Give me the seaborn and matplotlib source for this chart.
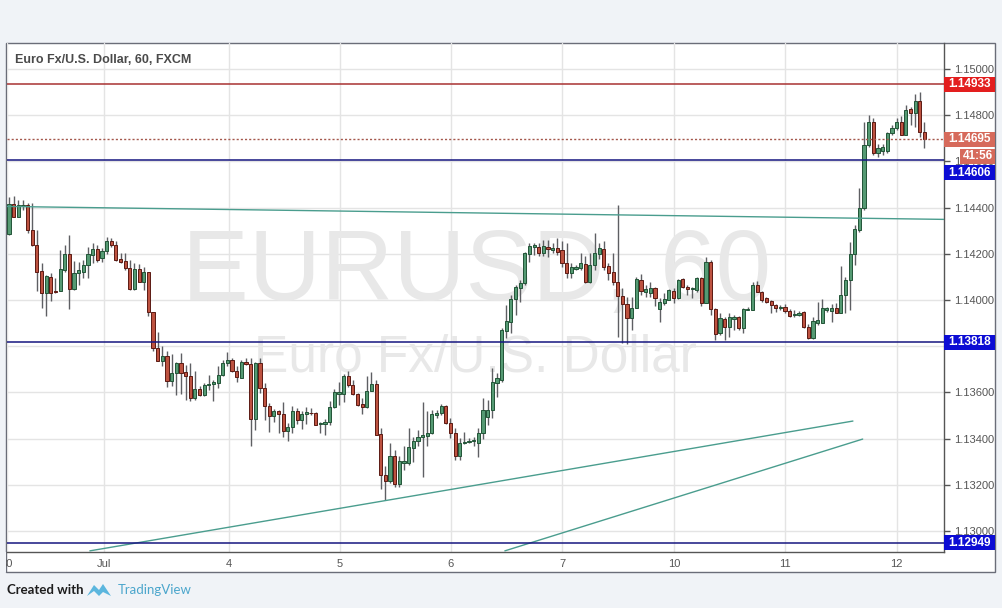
import numpy as np
import pandas as pd
import matplotlib
matplotlib.use("Agg")
import matplotlib.pyplot as plt
import seaborn as sns
from matplotlib.patches import Rectangle, Polygon

# ---------------- data (EUR/USD, 60 min candles) ----------------
opens = [1.14284, 1.14416, 1.14361, 1.14408, 1.14411, 1.14303, 1.14238, 1.14126, 1.14032, 1.14099,
         1.14041, 1.14041, 1.14130, 1.14200, 1.14047, 1.14116, 1.14123, 1.14152, 1.14195, 1.14220,
         1.14181, 1.14210, 1.14257, 1.14238, 1.14176, 1.14169, 1.14140, 1.14047, 1.14133, 1.14080,
         1.14123, 1.13950, 1.13792, 1.13734, 1.13756, 1.13648, 1.13684, 1.13727, 1.13687, 1.13672,
         1.13576, 1.13615, 1.13590, 1.13634, 1.13637, 1.13641, 1.13677, 1.13727, 1.13742, 1.13691,
         1.13664, 1.13731, 1.13723, 1.13484, 1.13726, 1.13618, 1.13542, 1.13500, 1.13520, 1.13506,
         1.13431, 1.13450, 1.13520, 1.13479, 1.13506, 1.13513, 1.13510, 1.13465, 1.13464, 1.13470,
         1.13536, 1.13595, 1.13592, 1.13671, 1.13630, 1.13592, 1.13550, 1.13535, 1.13607, 1.13637,
         1.13419, 1.13244, 1.13215, 1.13326, 1.13205, 1.13294, 1.13294, 1.13359, 1.13388, 1.13409,
         1.13413, 1.13423, 1.13503, 1.13510, 1.13539, 1.13467, 1.13424, 1.13323, 1.13382, 1.13386,
         1.13389, 1.13382, 1.13424, 1.13492, 1.13523, 1.13639, 1.13653, 1.13867, 1.13906, 1.14003,
         1.14050, 1.14072, 1.14198, 1.14231, 1.14231, 1.14202, 1.14231, 1.14216, 1.14224, 1.14216,
         1.14161, 1.14118, 1.14135, 1.14137, 1.14156, 1.14079, 1.14151, 1.14199, 1.14221, 1.14147,
         1.14122, 1.14079, 1.14018, 1.13981, 1.13921, 1.13966, 1.14086, 1.14036, 1.14029, 1.14050,
         1.13960, 1.13988, 1.14000, 1.14040, 1.14007, 1.14089, 1.14055, 1.14046, 1.14043, 1.14096,
         1.13988, 1.14166, 1.13960, 1.13856, 1.13916, 1.13884, 1.13919, 1.13925, 1.13877, 1.13956,
         1.13956, 1.14065, 1.14036, 1.14007, 1.13997, 1.13978, 1.13966, 1.13971, 1.13952, 1.13934,
         1.13935, 1.13949, 1.13884, 1.13834, 1.13901, 1.13901, 1.13956, 1.13953, 1.13964, 1.13945,
         1.14021, 1.14086, 1.14199, 1.14303, 1.14397, 1.14671, 1.14772, 1.14635, 1.14645, 1.14645,
         1.14722, 1.14743, 1.14772, 1.14714, 1.14825, 1.14808, 1.14861, 1.14726]
highs = [1.14447, 1.14450, 1.14433, 1.14433, 1.14418, 1.14418, 1.14303, 1.14159, 1.14109, 1.14119,
         1.14094, 1.14217, 1.14238, 1.14282, 1.14171, 1.14166, 1.14174, 1.14231, 1.14246, 1.14238,
         1.14224, 1.14272, 1.14267, 1.14257, 1.14205, 1.14202, 1.14174, 1.14159, 1.14156, 1.14145,
         1.14123, 1.13950, 1.13860, 1.13799, 1.13778, 1.13768, 1.13730, 1.13770, 1.13720, 1.13727,
         1.13691, 1.13626, 1.13641, 1.13677, 1.13655, 1.13713, 1.13742, 1.13775, 1.13749, 1.13713,
         1.13741, 1.13748, 1.13748, 1.13731, 1.13748, 1.13640, 1.13553, 1.13529, 1.13524, 1.13558,
         1.13467, 1.13543, 1.13532, 1.13520, 1.13535, 1.13532, 1.13514, 1.13474, 1.13484, 1.13561,
         1.13615, 1.13647, 1.13680, 1.13693, 1.13654, 1.13597, 1.13575, 1.13669, 1.13687, 1.13654,
         1.13445, 1.13280, 1.13380, 1.13352, 1.13323, 1.13366, 1.13445, 1.13409, 1.13438, 1.13560,
         1.13520, 1.13524, 1.13524, 1.13549, 1.13546, 1.13489, 1.13445, 1.13402, 1.13428, 1.13402,
         1.13405, 1.13446, 1.13575, 1.13567, 1.13704, 1.13682, 1.13877, 1.13978, 1.14021, 1.14065,
         1.14086, 1.14209, 1.14248, 1.14248, 1.14245, 1.14260, 1.14260, 1.14247, 1.14267, 1.14257,
         1.14248, 1.14159, 1.14151, 1.14202, 1.14190, 1.14205, 1.14289, 1.14248, 1.14257, 1.14159,
         1.14202, 1.14411, 1.14050, 1.14014, 1.14014, 1.14101, 1.14112, 1.14065, 1.14079, 1.14055,
         1.14007, 1.14029, 1.14046, 1.14050, 1.14089, 1.14094, 1.14065, 1.14057, 1.14101, 1.14101,
         1.14185, 1.14173, 1.13964, 1.13942, 1.13925, 1.13942, 1.13935, 1.13930, 1.13964, 1.13968,
         1.14079, 1.14083, 1.14040, 1.14014, 1.14000, 1.13982, 1.13978, 1.13982, 1.13960, 1.13956,
         1.13953, 1.13953, 1.13896, 1.13925, 1.13992, 1.14003, 1.13971, 1.13982, 1.13988, 1.14147,
         1.14101, 1.14252, 1.14325, 1.14483, 1.14772, 1.14801, 1.14788, 1.14674, 1.14674, 1.14729,
         1.14758, 1.14789, 1.14798, 1.14844, 1.14837, 1.14890, 1.14902, 1.14772]
lows = [1.14281, 1.14361, 1.14358, 1.14390, 1.14289, 1.14234, 1.14037, 1.13965, 1.13929, 1.13994,
        1.14030, 1.14041, 1.14123, 1.13961, 1.14044, 1.14066, 1.14094, 1.14094, 1.14159, 1.14166,
        1.14166, 1.14200, 1.14231, 1.14169, 1.14159, 1.14130, 1.14044, 1.14044, 1.14076, 1.14044,
        1.13929, 1.13778, 1.13734, 1.13713, 1.13624, 1.13626, 1.13590, 1.13595, 1.13569, 1.13562,
        1.13569, 1.13586, 1.13583, 1.13612, 1.13562, 1.13619, 1.13670, 1.13713, 1.13687, 1.13644,
        1.13661, 1.13719, 1.13370, 1.13438, 1.13597, 1.13481, 1.13428, 1.13474, 1.13424, 1.13405,
        1.13388, 1.13424, 1.13464, 1.13441, 1.13464, 1.13503, 1.13457, 1.13424, 1.13417, 1.13460,
        1.13532, 1.13546, 1.13560, 1.13625, 1.13587, 1.13542, 1.13506, 1.13532, 1.13604, 1.13417,
        1.13182, 1.13133, 1.13208, 1.13191, 1.13191, 1.13262, 1.13287, 1.13298, 1.13366, 1.13232,
        1.13366, 1.13419, 1.13489, 1.13503, 1.13464, 1.13402, 1.13306, 1.13309, 1.13376, 1.13379,
        1.13370, 1.13320, 1.13400, 1.13459, 1.13488, 1.13581, 1.13645, 1.13835, 1.13856, 1.13935,
        1.13992, 1.14065, 1.14166, 1.14195, 1.14190, 1.14190, 1.14187, 1.14203, 1.14195, 1.14144,
        1.14094, 1.14094, 1.14130, 1.14130, 1.14075, 1.14075, 1.14130, 1.14176, 1.14130, 1.14086,
        1.14065, 1.13841, 1.13812, 1.13809, 1.13870, 1.13964, 1.14021, 1.14014, 1.14014, 1.13974,
        1.13906, 1.13978, 1.13998, 1.13985, 1.14003, 1.14050, 1.14021, 1.14007, 1.14036, 1.13974,
        1.13985, 1.13935, 1.13827, 1.13848, 1.13827, 1.13841, 1.13870, 1.13870, 1.13856, 1.13956,
        1.13956, 1.14036, 1.13992, 1.13985, 1.13942, 1.13949, 1.13956, 1.13942, 1.13927, 1.13927,
        1.13930, 1.13880, 1.13830, 1.13830, 1.13892, 1.13899, 1.13949, 1.13906, 1.13942, 1.13942,
        1.13942, 1.13956, 1.14151, 1.14295, 1.14389, 1.14664, 1.14628, 1.14620, 1.14628, 1.14635,
        1.14714, 1.14736, 1.14714, 1.14714, 1.14758, 1.14750, 1.14707, 1.14657]
closes = [1.14416, 1.14361, 1.14411, 1.14410, 1.14303, 1.14238, 1.14123, 1.14032, 1.14102, 1.14032,
          1.14035, 1.14133, 1.14200, 1.14047, 1.14116, 1.14130, 1.14152, 1.14200, 1.14220, 1.14174,
          1.14210, 1.14257, 1.14238, 1.14174, 1.14166, 1.14140, 1.14047, 1.14133, 1.14080, 1.14123,
          1.13950, 1.13792, 1.13734, 1.13756, 1.13648, 1.13684, 1.13727, 1.13684, 1.13672, 1.13576,
          1.13615, 1.13590, 1.13634, 1.13637, 1.13644, 1.13677, 1.13727, 1.13742, 1.13691, 1.13667,
          1.13731, 1.13722, 1.13484, 1.13726, 1.13618, 1.13539, 1.13500, 1.13520, 1.13506, 1.13431,
          1.13450, 1.13520, 1.13479, 1.13507, 1.13514, 1.13510, 1.13460, 1.13467, 1.13474, 1.13536,
          1.13601, 1.13600, 1.13671, 1.13630, 1.13592, 1.13546, 1.13535, 1.13607, 1.13637, 1.13417,
          1.13241, 1.13215, 1.13326, 1.13205, 1.13304, 1.13304, 1.13362, 1.13391, 1.13409, 1.13415,
          1.13426, 1.13507, 1.13513, 1.13539, 1.13467, 1.13424, 1.13323, 1.13380, 1.13386, 1.13391,
          1.13395, 1.13424, 1.13523, 1.13523, 1.13646, 1.13661, 1.13870, 1.13910, 1.14003, 1.14055,
          1.14072, 1.14202, 1.14235, 1.14238, 1.14202, 1.14235, 1.14219, 1.14224, 1.14209, 1.14159,
          1.14118, 1.14144, 1.14141, 1.14159, 1.14079, 1.14151, 1.14202, 1.14224, 1.14144, 1.14118,
          1.14079, 1.14018, 1.13981, 1.13921, 1.13966, 1.14089, 1.14040, 1.14046, 1.14050, 1.14007,
          1.13992, 1.14003, 1.14043, 1.14007, 1.14086, 1.14055, 1.14049, 1.14052, 1.14094, 1.13988,
          1.14166, 1.13960, 1.13853, 1.13921, 1.13884, 1.13925, 1.13925, 1.13877, 1.13961, 1.13961,
          1.14065, 1.14036, 1.14000, 1.13992, 1.13978, 1.13966, 1.13971, 1.13952, 1.13932, 1.13938,
          1.13945, 1.13884, 1.13834, 1.13910, 1.13913, 1.13964, 1.13964, 1.13964, 1.13945, 1.14021,
          1.14086, 1.14199, 1.14307, 1.14397, 1.14671, 1.14772, 1.14635, 1.14659, 1.14664, 1.14722,
          1.14746, 1.14772, 1.14714, 1.14822, 1.14808, 1.14861, 1.14726, 1.14695]

day_tick_pos = [0.57, 21.4, 48.3, 72.2, 96.1, 120.0, 144.1, 168.0, 192.0]
day_tick_labels = ["30", "Jul", "4", "5", "6", "7", "10", "11", "12"]

price_ticks = [1.130, 1.132, 1.134, 1.136, 1.138, 1.140, 1.142, 1.144, 1.146, 1.148, 1.150]
hidden_tick_labels = [1.138]   # fully covered by the 1.13818 marker in the original

resistance = 1.14933
supports = [1.14606, 1.13818, 1.12949]
last_price = 1.14695
countdown = "41:56"

trend_x = [0.57, 202.2, 18.4, 182.6, 107.7, 184.7]
trend_y = [1.14405, 1.14349, 1.12914, 1.13476, 1.12914, 1.13398]
trend_id = ["flat", "flat", "up1", "up1", "up2", "up2"]

title = "Euro Fx/U.S. Dollar, 60, FXCM"

# ---------------- figure ----------------
sns.set_style("white")
plt.rcParams['font.family'] = ['Liberation Sans', 'DejaVu Sans']

W, H = 1002, 608
BG = '#f0f3f7'
fig = plt.figure(figsize=(W / 100, H / 100), dpi=100)
fig.patch.set_facecolor(BG)


def fx(px):
    return px / W


def fy(py):
    return 1 - py / H


panel = Rectangle((fx(6), fy(572)), fx(995) - fx(6), fy(43) - fy(572), transform=fig.transFigure,
                  facecolor='white', edgecolor='#6a6d78', lw=1, zorder=-1)
fig.add_artist(panel)

ax = fig.add_axes([fx(7), fy(552), fx(944) - fx(7), fy(43) - fy(552)])
ax.set_facecolor('none')
x0, x1 = 0.57, 202.2
y0, y1 = 1.129091, 1.151126
ax.set_xlim(x0, x1)
ax.set_ylim(y0, y1)

# grid
ax.set_axisbelow(True)
ax.grid(True, color='#e4e4e4', lw=1)

# watermark
ax.text(fx(477), fy(300), "EURUSD, 60", transform=fig.transFigure, ha='center', va='baseline',
        fontsize=72, color='#e8e8e8', zorder=0.8)
ax.text(fx(475), fy(372), "Euro Fx/U.S. Dollar", transform=fig.transFigure, ha='center', va='baseline',
        fontsize=37, color='#e8e8e8', zorder=0.8)

# candles
df = pd.DataFrame({"o": opens, "h": highs, "l": lows, "c": closes})
df["x"] = np.arange(1, len(df) + 1)
up = df["c"] >= df["o"]
ax.vlines(df["x"], df["l"], df["h"], color='#5e5f63', lw=1, zorder=2)
body_lo = np.minimum(df["o"], df["c"])
body_h = np.maximum(np.abs(df["c"] - df["o"]), 0.00003)
ax.bar(df["x"][up], body_h[up], bottom=body_lo[up], width=0.68, color='#559a73',
       edgecolor='#225437', lw=0.7, zorder=3)
ax.bar(df["x"][~up], body_h[~up], bottom=body_lo[~up], width=0.68, color='#bd5240',
       edgecolor='#5b1a13', lw=0.7, zorder=3)

# trend lines
tdf = pd.DataFrame({"x": trend_x, "price": trend_y, "line": trend_id})
sns.lineplot(data=tdf, x="x", y="price", units="line", estimator=None, sort=False,
             color='#4a9d8e', lw=1, ax=ax, zorder=4)

# horizontal levels
ax.axhline(resistance, color='#a83232', lw=1.1, zorder=4)
for s in supports:
    ax.axhline(s, color='#161680', lw=1.1, zorder=4)
ax.axhline(last_price, color='#a4574c', lw=1, ls=(0, (1.5, 1.5)), zorder=4)

# axes styling
ax.set_xlabel("")
ax.set_ylabel("")
ax.yaxis.tick_right()
ax.set_yticks(price_ticks)
ax.set_yticklabels(["" if any(abs(v - h) < 1e-9 for h in hidden_tick_labels) else f"{v:.5f}"
                    for v in price_ticks])
ax.set_xticks(day_tick_pos)
ax.set_xticklabels(day_tick_labels)
ax.tick_params(axis='y', which='both', right=True, left=False, length=4, width=1, color='#555555',
               labelcolor='#555555', labelsize=8, pad=3)
ax.tick_params(axis='x', length=0, labelcolor='#555555', labelsize=8, pad=5)
for side in ['top', 'left']:
    ax.spines[side].set_visible(False)
for side in ['right', 'bottom']:
    ax.spines[side].set_visible(True)
    ax.spines[side].set_color('#555555')
    ax.spines[side].set_linewidth(1)


# price boxes on the scale
def price_box(price, text, color, dy_px=0.0, xl=944, xr=995):
    yd = ax.transData.transform((x0, price))[1] - dy_px
    yc = yd / H
    h = 15 / H
    r = Rectangle((fx(xl), yc - h / 2), fx(xr) - fx(xl), h, transform=fig.transFigure,
                  facecolor=color, edgecolor='none', zorder=6)
    fig.add_artist(r)
    fig.text((fx(xl) + fx(xr)) / 2, yc, text, ha='center', va='center', color='white',
             fontsize=8.5, fontweight='bold', zorder=7)


price_box(resistance, f"{resistance:.5f}", '#e31e1e')
price_box(last_price, f"{last_price:.5f}", '#d66a5b')
price_box(last_price, countdown, '#d66a5b', dy_px=17, xl=960)
price_box(supports[0], f"{supports[0]:.5f}", '#0c0cd4', dy_px=12.5)
price_box(supports[1], f"{supports[1]:.5f}", '#0c0cd4')
price_box(supports[2], f"{supports[2]:.5f}", '#0c0cd4')

# cover left outside strip (clips the "3" of "30")
fig.add_artist(Rectangle((0, fy(572)), fx(5.5), fy(552) - fy(572), transform=fig.transFigure,
                         facecolor=BG, edgecolor='none', zorder=5))

# title
fig.text(fx(15), fy(60), title, ha='left', va='center', fontsize=9, fontweight='bold',
         color='#4a4a4a', zorder=7)

# footer
fig.text(fx(7), fy(590), "Created with", ha='left', va='center', fontsize=9.5, fontweight='bold',
         color='#1e1e1e', family=['Lato', 'DejaVu Sans'])
logo = Polygon([(fx(87), fy(596)), (fx(94), fy(585)), (fx(99), fy(590)), (fx(103), fy(584)),
                (fx(111), fy(596)), (fx(103), fy(592)), (fx(99), fy(596)), (fx(94), fy(591))],
               closed=True, transform=fig.transFigure, facecolor='#5bb6de', edgecolor='none')
fig.add_artist(logo)
fig.text(fx(118), fy(590), "TradingView", ha='left', va='center', fontsize=9.5,
         color='#4ba6cc', family=['Lato', 'DejaVu Sans'])

fig.savefig("out.png", dpi=100, facecolor=fig.get_facecolor())
